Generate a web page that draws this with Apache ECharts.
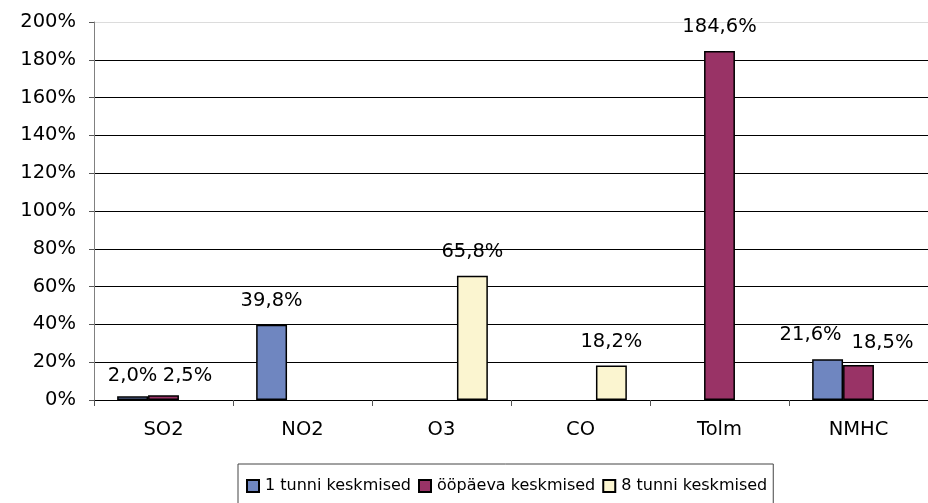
<!DOCTYPE html>
<html>
<head>
<meta charset="utf-8">
<script src="https://cdn.jsdelivr.net/npm/echarts@6/dist/echarts.min.js"></script>
<style>html,body{margin:0;padding:0;background:#fff}#c{width:928px;height:503px}</style>
</head>
<body>
<div id="c"></div>
<script>
var categories = ['SO2', 'NO2', 'O3', 'CO', 'Tolm', 'NMHC'];
var seriesNames = ['1 tunni keskmised', 'ööpäeva keskmised', '8 tunni keskmised'];
var hourly = [2.0, 39.8, null, null, null, 21.6];
var daily = [2.5, null, null, null, 184.6, 18.5];
var eightHour = [null, null, 65.8, 18.2, null, null];
var yTicks = [0, 20, 40, 60, 80, 100, 120, 140, 160, 180, 200];

var colors = ['#6f86c0', '#993366', '#fbf5d0'];
var FONT = 'DejaVu Sans';

// manual label nudges (as in the original, where some labels were moved)
var labelNudge = {
  '0-0': [0, 4], '1-0': [24, 5],
  '0-5': [-17, 0], '1-5': [24, 2]
};

function fmt(v) { return v.toFixed(1).replace('.', ',') + '%'; }

function build(values, si) {
  return values.map(function (v, i) {
    if (v === null) return '-';
    var item = { value: v };
    var n = labelNudge[si + '-' + i];
    if (n) item.label = { offset: n };
    return item;
  });
}

var allSeries = [hourly, daily, eightHour].map(function (vals, si) {
  return {
    name: seriesNames[si],
    type: 'bar',
    data: build(vals, si),
    barGap: 0,
    barCategoryGap: '33.3%',
    itemStyle: { color: colors[si], borderColor: '#000', borderWidth: 1.5 },
    label: {
      show: true, position: 'top', distance: 14,
      fontFamily: FONT, fontSize: 19.5, color: '#000',
      formatter: function (p) { return fmt(p.value); }
    }
  };
});

var splitColors = yTicks.map(function (t, i) { return i === yTicks.length - 1 ? '#dcdcdc' : '#000'; });

var chart = echarts.init(document.getElementById('c'), null, { renderer: 'canvas' });
chart.setOption({
  animation: false,
  backgroundColor: '#fff',
  grid: { left: 94, right: -4, top: 22, bottom: 103, containLabel: false },
  legend: {
    left: 238, top: 464,
    padding: [14, 6, 20, 8],
    borderColor: '#444', borderWidth: 1,
    itemWidth: 12, itemHeight: 12, itemGap: 7,
    icon: 'rect',
    textStyle: { fontFamily: FONT, fontSize: 16, color: '#000', padding: [0, 0, 0, 1] },
    data: seriesNames
  },
  xAxis: {
    type: 'category',
    data: categories,
    axisLine: { lineStyle: { color: '#000', width: 1 } },
    axisTick: { show: true, length: 6, interval: 0, lineStyle: { color: '#555' } },
    axisLabel: { margin: 20, fontFamily: FONT, fontSize: 19.5, color: '#000' }
  },
  yAxis: {
    type: 'value',
    min: yTicks[0], max: yTicks[yTicks.length - 1], interval: yTicks[1] - yTicks[0],
    axisLine: { show: true, lineStyle: { color: '#808080', width: 1 } },
    axisTick: { show: true, length: 5, lineStyle: { color: '#555' } },
    axisLabel: { margin: 18, fontFamily: FONT, fontSize: 19.5, color: '#000', formatter: '{value}%' },
    splitLine: { show: true, lineStyle: { color: splitColors, width: 1 } }
  },
  series: allSeries
});
</script>
</body>
</html>
